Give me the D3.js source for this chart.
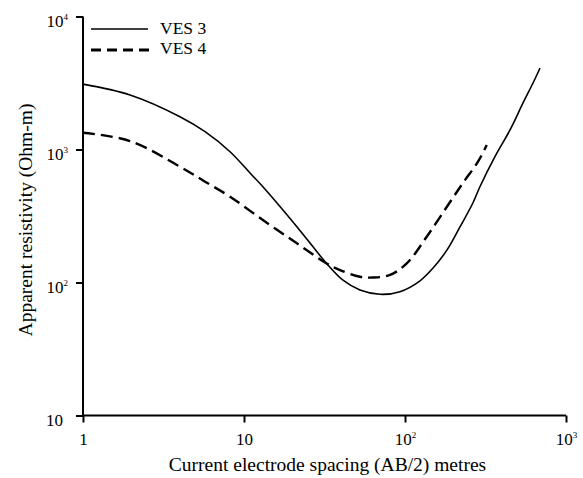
<!doctype html>
<html>
<head>
<script src="https://cdnjs.cloudflare.com/ajax/libs/d3/7.8.5/d3.min.js"></script>
<style>
  body { margin: 0; background: #fff; }
  text { font-family: "Liberation Serif", "Times New Roman", serif; fill: #000; }
</style>
</head>
<body>
<svg id="chart" width="583" height="478"></svg>
<script>
// spacing AB/2 (m) and apparent resistivity (Ohm-m)
var ves3X = [1, 1.96, 4.0, 5.73, 8.19, 10.9, 13.1, 21.3, 32.6, 41.2, 52.5, 70, 93, 124, 149, 182, 220, 264, 292, 362, 449, 541, 624, 690];
var ves3Y = [3100, 2570, 1765, 1361, 962, 666, 525, 263, 139, 104, 87.8, 81.5, 85.3, 103, 128, 175, 263, 396, 525, 883, 1402, 2238, 3162, 4100];

var ves4X = [1, 1.96, 4.0, 5.73, 8.19, 13.1, 21.3, 32.6, 39.5, 52.5, 63.3, 80.7, 102.5, 136.4, 182, 229, 284, 322];
var ves4Y = [1338, 1158, 743, 573, 442, 295, 197, 139, 124, 110.5, 109, 114, 139, 221, 371, 560, 810, 1081];

var xTicks = [1, 10, 100, 1000];
var yTicks = [10, 100, 1000, 10000];

var svg = d3.select("#chart");
var pLeft = 83, pRight = 566, pTop = 16.5, pBottom = 415.5;

var x = d3.scaleLog().domain([1, 1000]).range([pLeft, pRight]);
var y = d3.scaleLog().domain([10, 10000]).range([pBottom, pTop]);

function tickLabel(sel, d) {
  var e = Math.round(Math.log10(d));
  if (e === 0) { sel.text("1"); return; }
  sel.text("10");
  if (e > 1) sel.append("tspan").attr("dy", -7).attr("font-size", 9).text(e);
}

// x axis
var xa = svg.append("g").attr("transform", "translate(0," + pBottom + ")")
  .call(d3.axisBottom(x).tickValues(xTicks).tickSize(7).tickFormat(""));
xa.select(".domain").attr("stroke-width", 2).attr("d", "M" + pLeft + ",0H" + pRight);
xa.selectAll(".tick line").attr("stroke-width", 2);
xa.selectAll(".tick").append("text")
  .attr("y", 29.5).attr("text-anchor", "middle").attr("font-size", 17)
  .each(function(d) { tickLabel(d3.select(this), d); });

// y axis
var ya = svg.append("g").attr("transform", "translate(" + pLeft + ",0)")
  .call(d3.axisLeft(y).tickValues(yTicks).tickSize(7).tickFormat(""));
ya.select(".domain").attr("stroke-width", 2).attr("d", "M0," + pTop + "V" + pBottom);
ya.selectAll(".tick line").attr("stroke-width", 2);
ya.selectAll(".tick").append("text")
  .attr("x", function(d) { return d > 10 ? -15 : -20; })
  .attr("y", 10).attr("text-anchor", "end").attr("font-size", 17)
  .each(function(d) { tickLabel(d3.select(this), d); });

// axis titles
svg.append("text").attr("x", (pLeft + pRight) / 2 + 3).attr("y", 471)
  .attr("text-anchor", "middle").attr("font-size", 19.5)
  .text("Current electrode spacing (AB/2) metres");
svg.append("text").attr("transform", "translate(32,220) rotate(-90)")
  .attr("text-anchor", "middle").attr("font-size", 19.5)
  .text("Apparent resistivity (Ohm-m)");

var line = d3.line().curve(d3.curveCatmullRom.alpha(0.5))
  .x(function(d) { return x(d[0]); })
  .y(function(d) { return y(d[1]); });

svg.append("path").datum(d3.zip(ves3X, ves3Y))
  .attr("d", line).attr("fill", "none").attr("stroke", "#000").attr("stroke-width", 1.6);
svg.append("path").datum(d3.zip(ves4X, ves4Y))
  .attr("d", line).attr("fill", "none").attr("stroke", "#000").attr("stroke-width", 2.4)
  .attr("stroke-dasharray", "12,6");

// legend
var lg = svg.append("g");
lg.append("line").attr("x1", 91).attr("x2", 148).attr("y1", 29).attr("y2", 29)
  .attr("stroke", "#000").attr("stroke-width", 1.6);
lg.append("line").attr("x1", 91).attr("x2", 150).attr("y1", 50).attr("y2", 50)
  .attr("stroke", "#000").attr("stroke-width", 2.8).attr("stroke-dasharray", "10,6");
lg.append("text").attr("x", 160).attr("y", 33.5).attr("font-size", 17.5).text("VES 3");
lg.append("text").attr("x", 160).attr("y", 53.5).attr("font-size", 17.5).text("VES 4");
</script>
</body>
</html>
